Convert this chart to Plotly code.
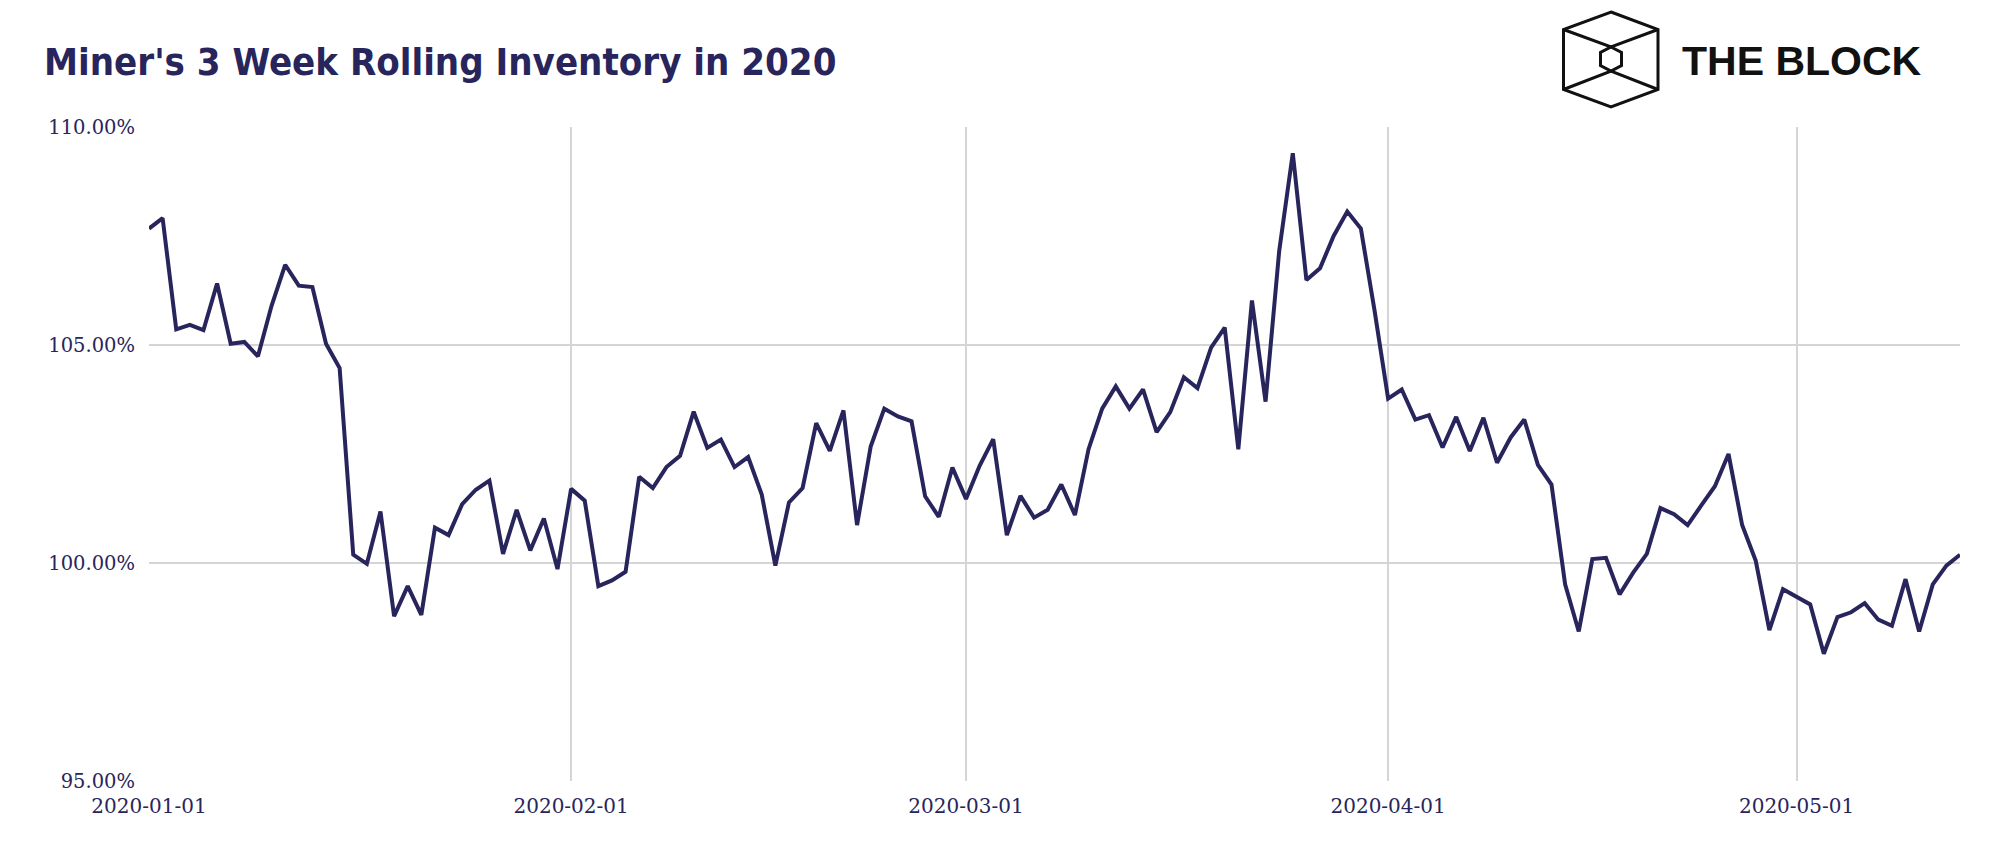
import plotly.graph_objects as go
import pandas as pd

# ---- data ----
start_date = "2020-01-01"
end_date = "2020-05-13"
dates = pd.date_range(start_date, end_date, freq="D")

inventory_pct = [
    107.67, 107.91, 105.36, 105.46, 105.34, 106.41, 105.03, 105.07, 104.74, 105.90,
    106.84, 106.36, 106.33, 105.03, 104.47, 100.19, 99.98, 101.18, 98.78, 99.47,
    98.81, 100.81, 100.64, 101.35, 101.68, 101.89, 100.21, 101.22, 100.29, 101.02,
    99.86, 101.70, 101.43, 99.47, 99.60, 99.80, 101.98, 101.72, 102.20, 102.46,
    103.47, 102.64, 102.83, 102.20, 102.43, 101.57, 99.94, 101.39, 101.72, 103.21,
    102.57, 103.50, 100.87, 102.67, 103.54, 103.36, 103.25, 101.53, 101.06, 102.19,
    101.47, 102.23, 102.84, 100.64, 101.54, 101.04, 101.22, 101.80, 101.10, 102.61,
    103.54, 104.05, 103.54, 103.98, 103.00, 103.46, 104.26, 104.01, 104.94, 105.40,
    102.61, 106.02, 103.70, 107.15, 109.40, 106.49, 106.76, 107.50, 108.06, 107.67,
    105.80, 103.77, 103.98, 103.29, 103.39, 102.65, 103.35, 102.57, 103.33, 102.30,
    102.88, 103.29, 102.25, 101.80, 99.51, 98.43, 100.09, 100.12, 99.28, 99.78,
    100.21, 101.26, 101.12, 100.87, 101.32, 101.76, 102.50, 100.87, 100.05, 98.46,
    99.40, 99.22, 99.05, 97.92, 98.76, 98.87, 99.08, 98.70, 98.56, 99.63,
    98.43, 99.51, 99.94, 100.19,
]

y_ticks = [95, 100, 105, 110]
y_tick_labels = ["95.00%", "100.00%", "105.00%", "110.00%"]
title_text = "Miner's 3 Week Rolling Inventory in 2020"
logo_text = "THE BLOCK"

# ---- styling ----
NAVY = "#28255c"
GRID = "#d5d5d5"
OFF = 8                      # page body margin in the browser
W, H = 1999 - 2 * OFF, 859 - 2 * OFF
# target plot area in page pixels: x 149..1960, y 127..781
ML = 149 - OFF
MT = 127 - OFF
MR = W - (1960 - OFF)
MB = H - (781 - OFF)
PW, PH = W - ML - MR, H - MT - MB


def px(x):
    """page pixel x -> paper fraction"""
    return (x - OFF - ML) / PW


def py(y):
    """page pixel y -> paper fraction"""
    return (H - MB - (y - OFF)) / PH


fig = go.Figure()
fig.add_trace(go.Scatter(
    x=dates, y=inventory_pct, mode="lines",
    line=dict(color=NAVY, width=4),
    hoverinfo="x+y", showlegend=False,
))

# logo icon (cube outline)
outer = [(1611, 12), (1658, 29.5), (1658, 89.5), (1611, 107), (1563.5, 89.5), (1563.5, 29.5)]
inner = [(1611, 47), (1621.5, 52.5), (1621.5, 65.5), (1611, 71), (1600.5, 65.5), (1600.5, 52.5)]


def path_from(pts, close=True):
    s = "M " + " L ".join(f"{px(a):.5f},{py(b):.5f}" for a, b in pts)
    return s + (" Z" if close else "")


LOGO_LINE = dict(color="#111111", width=3)
shapes = [
    dict(type="path", path=path_from(outer), xref="paper", yref="paper", line=LOGO_LINE),
    dict(type="path", path=path_from(inner), xref="paper", yref="paper", line=LOGO_LINE),
    dict(type="path", path=path_from([(1563.5, 29.5), (1611, 47), (1658, 29.5)], close=False),
         xref="paper", yref="paper", line=LOGO_LINE),
    dict(type="path", path=path_from([(1563.5, 89.5), (1611, 71), (1658, 89.5)], close=False),
         xref="paper", yref="paper", line=LOGO_LINE),
]

annotations = [
    dict(text=f"<b>{title_text}</b>", x=px(42), y=py(62), xref="paper", yref="paper",
         xanchor="left", yanchor="middle", showarrow=False,
         font=dict(family="Liberation Sans Narrow, DejaVu Sans Condensed, Roboto",
                   size=38, color=NAVY)),
    dict(text=f"<b>{logo_text}</b>", x=px(1680), y=py(61), xref="paper", yref="paper",
         xanchor="left", yanchor="middle", showarrow=False,
         font=dict(family="Liberation Sans, Arial", size=41, color="#111111")),
]

fig.update_layout(
    width=W, height=H,
    margin=dict(l=ML, r=MR, t=MT, b=MB),
    paper_bgcolor="white", plot_bgcolor="white",
    shapes=shapes, annotations=annotations,
    font=dict(family="DejaVu Serif", size=19.5, color=NAVY),
    xaxis=dict(
        type="date", range=[start_date, end_date],
        dtick="M1", tick0=start_date, tickformat="%Y-%m-%d",
        showgrid=True, gridcolor=GRID, gridwidth=2,
        showline=False, zeroline=False, ticks="",
        ticklabelstandoff=11,
        tickfont=dict(family="DejaVu Serif", size=20, color=NAVY),
    ),
    yaxis=dict(
        range=[95, 110], tickvals=y_ticks, ticktext=y_tick_labels,
        showgrid=True, gridcolor=GRID, gridwidth=2,
        showline=False, zeroline=False, ticks="",
        ticklabelstandoff=13,
        tickfont=dict(family="DejaVu Serif", size=19.5, color=NAVY),
    ),
)

fig.write_html("out.html")
